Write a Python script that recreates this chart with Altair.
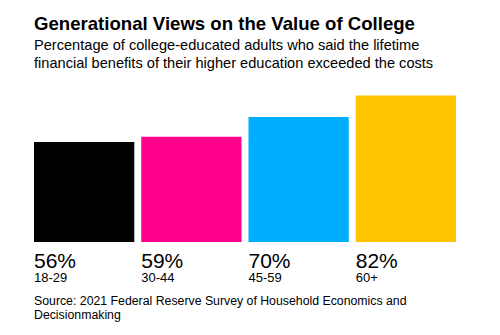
import altair as alt
import pandas as pd

ages = ["18-29", "30-44", "45-59", "60+"]
values = [56, 59, 70, 82]
labels = ["56%", "59%", "70%", "82%"]
colors = ["#000000", "#FF008C", "#00AEFF", "#FFC400"]
title_text = "Generational Views on the Value of College"
subtitle_lines = [
    "Percentage of college-educated adults who said the lifetime",
    "financial benefits of their higher education exceeded the costs",
]
source_lines = [
    "Source: 2021 Federal Reserve Survey of Household Economics and",
    "Decisionmaking",
]

df = pd.DataFrame({"age": ages, "value": values, "label": labels})
FONT = "Liberation Sans"

x = alt.X("age:N", sort=ages, axis=None,
          scale=alt.Scale(paddingInner=0.065, paddingOuter=0))
y = alt.Y("value:Q", axis=None, scale=alt.Scale(domain=[0, 84], nice=False))

bars = alt.Chart(df).mark_bar().encode(
    x=x, y=y,
    color=alt.Color("age:N", sort=ages, legend=None,
                    scale=alt.Scale(domain=ages, range=colors)),
)

pct = alt.Chart(df).mark_text(align="left", baseline="alphabetic", dy=25.5,
                              fontSize=21, font=FONT, color="#000").encode(
    x=alt.X("age:N", sort=ages, bandPosition=0), y=alt.datum(0), text="label:N")

agelab = alt.Chart(df).mark_text(align="left", baseline="alphabetic", dy=40,
                                 fontSize=13, font=FONT, color="#000").encode(
    x=alt.X("age:N", sort=ages, bandPosition=0), y=alt.datum(0), text="age:N")

src = alt.Chart(pd.DataFrame({"t": [source_lines]})).mark_text(
    align="left", baseline="alphabetic", fontSize=12.3, font=FONT, color="#000",
    lineHeight=14, dy=63).encode(
    x=alt.value(0), y=alt.datum(0), text="t")

chart = alt.layer(bars, pct, agelab, src).properties(
    width=422, height=150,
    autosize=alt.AutoSizeParams(type="none"),
    padding={"left": 34, "top": 92, "right": 44, "bottom": 93},
    title=alt.TitleParams(
        text=title_text, subtitle=subtitle_lines, anchor="start", frame="group",
        font=FONT, fontSize=18.6, fontWeight="bold", color="#000",
        subtitleFont=FONT, subtitleFontSize=14.6, subtitleColor="#000",
        subtitleLineHeight=18, subtitlePadding=5, offset=21,
    ),
).configure_view(stroke=None)

chart.save("out.html", embed_options={"renderer": "svg", "actions": False})
